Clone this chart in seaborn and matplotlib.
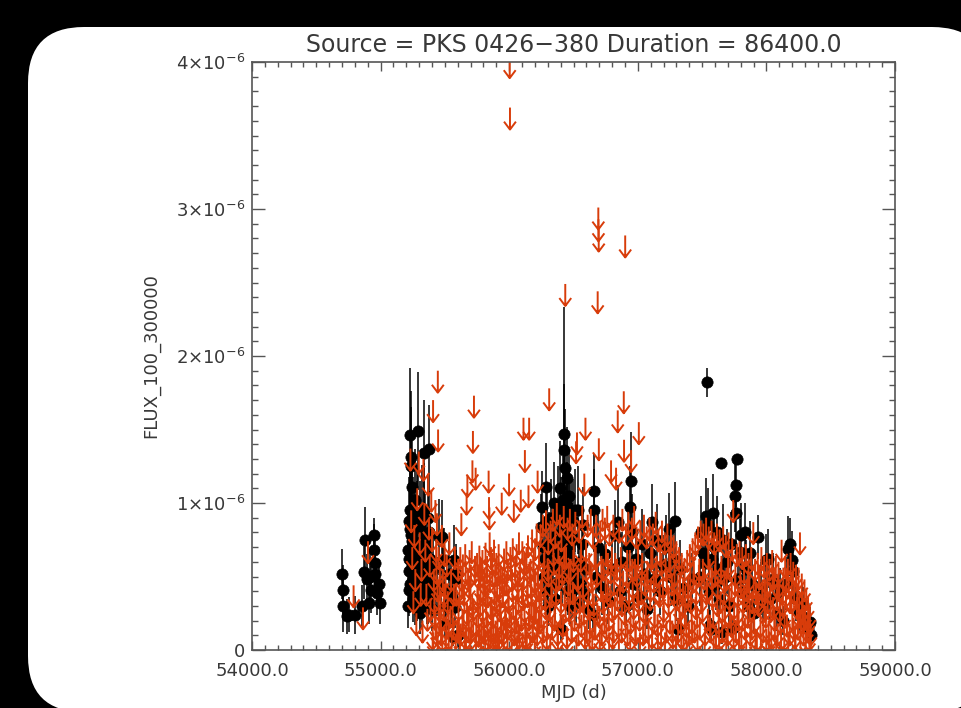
import numpy as np
import pandas as pd
import matplotlib
matplotlib.use("Agg")
import matplotlib.pyplot as plt
import seaborn as sns
from matplotlib.path import Path
from matplotlib.markers import MarkerStyle
from matplotlib.patches import FancyBboxPatch
from matplotlib.transforms import IdentityTransform
from matplotlib.ticker import MultipleLocator, FixedLocator, FixedFormatter, FormatStrFormatter

# ---------------- text ----------------
TITLE = "Source = PKS 0426\u2212380 Duration = 86400.0"
XLABEL = "MJD (d)"
YLABEL = "FLUX_100_300000"
X_TICKS = [54000, 55000, 56000, 57000, 58000, 59000]
Y_TICKS = [0.0, 1e-6, 2e-6, 3e-6, 4e-6]
Y_TICK_LABELS = ["0", r"$1{\times}10^{-6}$", r"$2{\times}10^{-6}$", r"$3{\times}10^{-6}$", r"$4{\times}10^{-6}$"]

# ---------------- detections (flux and error in 1e-6 ph/cm2/s) ----------------
det_mjd_a = [54700, 54706, 54710, 54739, 54752, 54798, 54855, 54868, 54881, 54894,
             54907, 54920, 54928, 54946, 54950, 54955, 54959, 54972, 54985, 54998]
det_flux_a = [0.52, 0.41, 0.30, 0.23, 0.24, 0.24, 0.30, 0.53, 0.75, 0.48,
              0.32, 0.50, 0.41, 0.78, 0.68, 0.59, 0.52, 0.39, 0.45, 0.32]
det_err_a = [0.17, 0.17, 0.18, 0.12, 0.12, 0.13, 0.14, 0.18, 0.22, 0.17,
             0.14, 0.18, 0.16, 0.12, 0.18, 0.17, 0.16, 0.15, 0.15, 0.14]

det_mjd_b = [55215, 55219, 55222, 55226, 55230, 55232, 55235, 55237, 55240, 55243,
             55245, 55250, 55255, 55260, 55266, 55271, 55276, 55282, 55288, 55292,
             55297, 55303, 55310, 55316, 55322, 55328, 55335, 55342, 55350, 55358,
             55366, 55374, 55382, 55390, 55398, 55410, 55425, 55440, 55453, 55466,
             55479, 55485, 55492, 55500, 55512, 55530, 55545, 55557, 55565, 55570,
             55575, 55583, 55590, 55598]
det_flux_b = [0.68, 0.54, 0.41, 0.95, 0.82, 1.46, 0.62, 1.31, 1.25, 0.74,
              1.11, 0.88, 0.48, 0.70, 1.02, 0.32, 0.60, 0.85, 0.55, 1.49,
              0.42, 0.72, 0.25, 0.66, 0.94, 0.50, 1.34, 0.78, 0.58, 0.36,
              0.90, 1.37, 0.62, 0.45, 0.28, 0.55, 0.38, 0.43, 0.77, 0.43,
              0.77, 0.61, 0.61, 0.18, 0.30, 0.52, 0.40, 0.36, 0.09, 0.61,
              0.29, 0.52, 0.48, 0.10]
det_err_b = [0.25, 0.20, 0.18, 0.35, 0.30, 0.46, 0.22, 0.45, 0.40, 0.28,
             0.38, 0.30, 0.20, 0.25, 0.35, 0.15, 0.22, 0.30, 0.22, 0.40,
             0.18, 0.26, 0.14, 0.25, 0.32, 0.20, 0.36, 0.28, 0.22, 0.18,
             0.30, 0.30, 0.24, 0.20, 0.15, 0.22, 0.18, 0.20, 0.26, 0.20,
             0.25, 0.22, 0.22, 0.10, 0.15, 0.22, 0.18, 0.18, 0.06, 0.24,
             0.14, 0.20, 0.20, 0.08]

det_mjd_b2 = [55212, 55217, 55224, 55228, 55234, 55242, 55248, 55253, 55258, 55264,
              55268, 55274, 55280, 55286, 55295, 55300, 55307, 55314, 55320, 55326,
              55332, 55338, 55345, 55354, 55362, 55370, 55378, 55386]
det_flux_b2 = [0.30, 0.88, 0.62, 0.45, 0.78, 0.95, 0.58, 0.35, 0.82, 0.52,
               0.70, 0.44, 0.92, 0.38, 0.66, 0.55, 0.85, 0.48, 0.30, 0.74,
               0.60, 0.95, 0.42, 0.68, 0.52, 0.34, 0.80, 0.58]
det_err_b2 = [0.15, 0.30, 0.24, 0.20, 0.28, 0.32, 0.22, 0.16, 0.30, 0.22,
              0.26, 0.20, 0.32, 0.18, 0.25, 0.22, 0.30, 0.20, 0.15, 0.26,
              0.24, 0.32, 0.18, 0.25, 0.22, 0.16, 0.28, 0.22]

det_mjd_c = [56246, 56255, 56262, 56270, 56278, 56285, 56292, 56297, 56305, 56312,
             56320, 56328, 56335, 56342, 56350, 56358, 56365, 56372, 56380, 56388,
             56395, 56402, 56410, 56418, 56427, 56430, 56436, 56440, 56446, 56452,
             56458, 56465, 56470, 56478, 56485, 56492, 56500, 56510, 56520, 56532,
             56540, 56552, 56565, 56572, 56585, 56600, 56620, 56650, 56657, 56663,
             56675, 56690]
det_flux_c = [0.84, 0.97, 0.70, 0.50, 0.62, 1.11, 0.40, 0.88, 0.30, 0.72,
              0.56, 0.90, 0.45, 0.66, 1.00, 0.35, 0.78, 0.55, 0.95, 0.62,
              1.10, 0.14, 0.70, 0.85, 1.47, 1.36, 1.24, 0.80, 0.98, 1.17,
              0.66, 1.05, 0.50, 0.88, 0.40, 0.75, 0.58, 0.95, 0.32, 0.95,
              0.60, 0.45, 0.72, 0.85, 0.38, 0.55, 0.28, 0.24, 1.08, 0.95,
              0.50, 0.70]
det_err_c = [0.22, 0.25, 0.20, 0.18, 0.20, 0.30, 0.16, 0.25, 0.14, 0.22,
             0.20, 0.26, 0.18, 0.22, 0.28, 0.15, 0.24, 0.20, 0.30, 0.22,
             0.32, 0.08, 0.24, 0.30, 0.86, 0.45, 0.40, 0.28, 0.30, 0.35,
             0.24, 0.32, 0.20, 0.28, 0.18, 0.25, 0.22, 0.28, 0.15, 0.30,
             0.22, 0.18, 0.24, 0.26, 0.16, 0.20, 0.14, 0.12, 0.25, 0.28,
             0.20, 0.22]

det_mjd_c2 = [56400, 56406, 56414, 56422, 56433, 56443, 56449, 56455, 56462, 56468,
              56474, 56482, 56488, 56496, 56505]
det_flux_c2 = [0.62, 0.90, 0.48, 1.02, 0.70, 0.58, 0.85, 0.40, 0.95, 0.66,
               0.30, 0.78, 0.52, 0.88, 0.45]
det_err_c2 = [0.22, 0.28, 0.18, 0.30, 0.24, 0.22, 0.28, 0.16, 0.30, 0.24,
              0.14, 0.26, 0.20, 0.28, 0.18]

det_mjd_d = [56720, 56745, 56770, 56800, 56825, 56844, 56860, 56880, 56905, 56925,
             56940, 56948, 56952, 56965, 56985, 57010, 57030, 57050, 57075, 57095,
             57108, 57125, 57150, 57170, 57195, 57220, 57245, 57260, 57275, 57286,
             57300, 57312, 57330, 57360, 57390, 57420]
det_flux_d = [0.42, 0.65, 0.33, 0.55, 0.78, 0.87, 0.40, 0.60, 0.30, 0.70,
              0.97, 1.15, 0.80, 0.45, 0.62, 0.36, 0.72, 0.52, 0.28, 0.66,
              0.87, 0.48, 0.75, 0.40, 0.58, 0.70, 0.82, 0.50, 0.62, 0.88,
              0.35, 0.14, 0.55, 0.42, 0.30, 0.48]
det_err_d = [0.18, 0.22, 0.15, 0.20, 0.24, 0.25, 0.16, 0.20, 0.14, 0.24,
             0.28, 0.33, 0.26, 0.18, 0.22, 0.16, 0.24, 0.20, 0.14, 0.22,
             0.26, 0.18, 0.24, 0.16, 0.20, 0.22, 0.25, 0.20, 0.22, 0.26,
             0.15, 0.08, 0.20, 0.18, 0.14, 0.18]

det_mjd_e = [57485, 57493, 57507, 57520, 57533, 57539, 57545, 57552, 57560, 57570,
             57578, 57585, 57595, 57605, 57615, 57625, 57635, 57650, 57652, 57665,
             57680, 57695, 57710, 57725, 57740, 57754, 57760, 57767, 57770, 57780,
             57793, 57806, 57820, 57832, 57845, 57860, 57871, 57885, 57900]
det_flux_e = [0.50, 0.80, 0.66, 0.59, 0.91, 1.82, 0.85, 0.40, 0.17, 0.14,
              0.62, 0.93, 0.70, 0.45, 0.80, 0.55, 0.35, 1.27, 0.12, 0.75,
              0.50, 0.60, 0.30, 0.72, 0.15, 1.05, 1.12, 0.93, 1.30, 0.48,
              0.67, 0.78, 0.40, 0.80, 0.55, 0.30, 0.66, 0.45, 0.25]
det_err_e = [0.20, 0.25, 0.22, 0.20, 0.26, 0.10, 0.25, 0.18, 0.10, 0.08,
             0.22, 0.27, 0.24, 0.18, 0.25, 0.20, 0.15, 0.02, 0.08, 0.24,
             0.20, 0.22, 0.14, 0.22, 0.08, 0.25, 0.15, 0.20, 0.03, 0.18,
             0.22, 0.22, 0.18, 0.20, 0.20, 0.14, 0.22, 0.18, 0.12]

det_mjd_f = [57936, 57955, 57975, 58000, 58009, 58030, 58055, 58080, 58105, 58130,
             58155, 58170, 58183, 58196, 58210, 58230, 58250, 58274, 58285, 58300,
             58311, 58325, 58339, 58345]
det_flux_f = [0.77, 0.42, 0.30, 0.61, 0.62, 0.35, 0.48, 0.25, 0.40, 0.20,
              0.45, 0.69, 0.72, 0.61, 0.54, 0.35, 0.25, 0.31, 0.31, 0.22,
              0.18, 0.14, 0.19, 0.10]
det_err_f = [0.15, 0.18, 0.14, 0.18, 0.20, 0.15, 0.18, 0.12, 0.16, 0.10,
             0.18, 0.22, 0.18, 0.20, 0.18, 0.15, 0.12, 0.14, 0.12, 0.10,
             0.08, 0.08, 0.10, 0.07]

# ---------------- upper limits (1e-6 ph/cm2/s) ----------------
ul_mjd_a = [54790, 54863, 54902]
ul_flux_a = [0.44, 0.29, 0.74]

ul_mjd_b = [55232, 55238, 55246, 55255, 55262, 55270, 55278, 55285, 55297, 55304,
            55312, 55318, 55326, 55333, 55340, 55348, 55356, 55364, 55370, 55376,
            55382, 55388, 55394, 55400, 55405, 55408, 55414, 55420, 55426, 55432,
            55436, 55438, 55442, 55445, 55447, 55450, 55455, 55460, 55465, 55470,
            55476, 55484, 55490, 55498, 55505, 55510, 55515, 55522, 55530, 55535,
            55542, 55548, 55560, 55570, 55578, 55588, 55595]
ul_flux_b = [1.37, 0.95, 0.70, 0.40, 0.85, 0.55, 0.25, 1.10, 1.35, 0.80,
             0.45, 0.62, 0.20, 1.30, 1.00, 0.75, 0.45, 0.28, 1.20, 0.90,
             0.65, 0.35, 1.09, 0.82, 0.15, 1.70, 0.55, 0.30, 1.02, 0.75,
             0.18, 0.93, 0.48, 1.90, 1.50, 0.70, 0.25, 0.60, 0.40, 0.18,
             0.85, 0.55, 0.35, 0.72, 0.50, 0.22, 0.65, 0.40, 0.15, 0.80,
             0.30, 0.55, 0.30, 0.45, 0.70, 0.45, 0.20]

ul_mjd_b2 = [55410, 55418, 55428, 55434, 55444, 55452, 55458, 55468, 55480, 55494,
             55508, 55526, 55552, 55566, 55584]
ul_flux_b2 = [0.12, 0.40, 0.22, 0.60, 0.10, 0.35, 0.50, 0.28, 0.14, 0.45,
              0.10, 0.25, 0.12, 0.22, 0.10]

ul_mjd_c = [55603, 55609, 55614, 55620, 55624, 55628, 55633, 55640, 55645, 55652,
            55658, 55664, 55669, 55675, 55680, 55686, 55692, 55699, 55705, 55709,
            55714, 55718, 55722, 55726, 55731, 55739, 55744, 55750, 55756, 55762,
            55768, 55774, 55780, 55786, 55792, 55798, 55804, 55810, 55816, 55822,
            55828, 55834, 55840, 55843, 55846, 55848, 55852, 55858, 55864, 55870,
            55876, 55882, 55888, 55894, 55900, 55906, 55912, 55918, 55924, 55930,
            55936, 55942, 55948, 55954, 55960, 55966, 55972, 55978, 55984, 55990,
            55995, 55999, 56004, 56006, 56010, 56016, 56022, 56028, 56036, 56040,
            56046, 56052, 56058, 56064, 56070, 56076, 56082, 56090, 56096, 56102,
            56108, 56111, 56116, 56122, 56128, 56134, 56140, 56146, 56150, 56155,
            56160, 56166, 56172, 56178, 56184, 56190, 56196, 56202, 56208, 56214,
            56221, 56226, 56232, 56238]
ul_flux_c = [0.62, 0.22, 0.45, 0.70, 0.18, 0.93, 0.50, 0.65, 0.25, 0.40,
             0.72, 0.15, 1.07, 1.19, 0.55, 0.28, 0.68, 0.42, 0.20, 0.74,
             1.29, 1.49, 0.35, 1.73, 0.60, 1.24, 0.24, 0.66, 0.45, 0.17,
             0.71, 0.38, 0.62, 0.22, 0.68, 0.48, 0.19, 0.56, 0.73, 0.30,
             0.64, 0.44, 1.22, 1.04, 0.97, 0.80, 0.16, 0.70, 0.36, 0.58,
             0.24, 0.75, 0.42, 0.20, 0.66, 0.50, 0.14, 0.72, 0.38, 0.60,
             0.26, 1.07, 0.45, 0.18, 0.69, 0.52, 0.30, 0.74, 0.22, 0.62,
             0.40, 1.20, 4.04, 3.69, 0.70, 0.26, 0.55, 0.76, 1.02, 0.18,
             0.64, 0.34, 0.72, 0.48, 0.20, 0.80, 0.58, 1.09, 0.28, 0.74,
             0.42, 1.58, 0.66, 1.36, 0.16, 0.70, 0.50, 0.78, 1.12, 1.58,
             0.30, 0.62, 0.45, 0.82, 0.22, 0.68, 0.54, 0.76, 0.33, 0.86,
             1.22, 0.48, 0.70, 0.26]

ul_mjd_c2 = [55606, 55617, 55630, 55637, 55648, 55655, 55661, 55672, 55683, 55689,
             55696, 55702, 55712, 55720, 55734, 55742, 55753, 55759, 55765, 55771,
             55777, 55783, 55789, 55795, 55801, 55807, 55813, 55819, 55825, 55831,
             55837, 55850, 55855, 55861, 55867, 55873, 55879, 55885, 55891, 55897,
             55903, 55909, 55915, 55921, 55927, 55933, 55939, 55945, 55951, 55957,
             55963, 55969, 55975, 55981, 55987, 55993, 56002, 56013, 56019, 56025,
             56031, 56043, 56049, 56055, 56061, 56067, 56073, 56079, 56085, 56093,
             56099, 56105, 56113, 56119, 56125, 56131, 56137, 56143, 56153, 56158,
             56163, 56169, 56175, 56181, 56187, 56193, 56199, 56205, 56211, 56217,
             56224, 56229, 56235]
ul_flux_c2 = [0.35, 0.12, 0.55, 0.28, 0.45, 0.10, 0.60, 0.32, 0.20, 0.50,
              0.14, 0.58, 0.38, 0.24, 0.64, 0.12, 0.42, 0.30, 0.56, 0.18,
              0.48, 0.10, 0.62, 0.34, 0.22, 0.52, 0.14, 0.44, 0.60, 0.26,
              0.12, 0.54, 0.36, 0.20, 0.66, 0.30, 0.10, 0.46, 0.58, 0.16,
              0.40, 0.28, 0.62, 0.12, 0.50, 0.34, 0.20, 0.56, 0.44, 0.10,
              0.60, 0.32, 0.24, 0.52, 0.14, 0.42, 0.30, 0.64, 0.12, 0.48,
              0.36, 0.20, 0.58, 0.26, 0.10, 0.54, 0.40, 0.16, 0.62, 0.30,
              0.46, 0.12, 0.56, 0.34, 0.22, 0.66, 0.14, 0.44, 0.28, 0.60,
              0.10, 0.50, 0.36, 0.20, 0.64, 0.32, 0.12, 0.54, 0.42, 0.18,
              0.58, 0.26, 0.40]

ul_mjd_d = [56244, 56250, 56256, 56262, 56268, 56274, 56280, 56286, 56292, 56298,
            56304, 56311, 56316, 56322, 56328, 56334, 56340, 56346, 56352, 56358,
            56364, 56370, 56376, 56382, 56388, 56394, 56400, 56406, 56412, 56418,
            56424, 56430, 56436, 56442, 56448, 56454, 56460, 56466, 56472, 56478,
            56484, 56490, 56496, 56502, 56508, 56514, 56520, 56527, 56532, 56538,
            56544, 56550, 56556, 56562, 56568, 56574, 56580, 56584, 56593, 56598,
            56604, 56610, 56616, 56622, 56628, 56634, 56640, 56646, 56652, 56658,
            56664, 56670, 56676, 56682, 56688, 56693, 56694, 56696, 56697, 56702,
            56708, 56714, 56720, 56726, 56732, 56738, 56744, 56750, 56756, 56762,
            56768, 56774, 56780, 56786, 56792, 56798, 56804, 56810, 56816, 56822,
            56831, 56838, 56844, 56850, 56856, 56862, 56868, 56874, 56880, 56886,
            56891, 56893, 56898, 56902, 56908, 56914, 56920, 56926, 56932, 56938,
            56944, 56948, 56954, 56960, 56966, 56972, 56978, 56984, 56990, 56996]
ul_flux_d = [0.85, 0.30, 0.55, 0.92, 0.20, 0.70, 0.42, 0.95, 0.15, 0.62,
             0.80, 1.78, 0.35, 0.88, 0.50, 0.22, 0.96, 0.66, 0.28, 0.84,
             0.45, 1.00, 0.18, 0.74, 0.56, 0.92, 0.30, 0.82, 0.60, 0.24,
             0.98, 0.44, 2.49, 0.70, 0.16, 0.90, 0.52, 0.34, 0.96, 0.62,
             0.20, 0.86, 0.46, 0.72, 0.28, 0.94, 1.42, 1.48, 0.55, 0.18,
             0.88, 0.40, 0.68, 0.24, 0.98, 0.50, 0.32, 1.20, 1.58, 0.75,
             0.20, 0.92, 0.46, 0.66, 0.26, 0.96, 0.54, 0.15, 0.84, 0.38,
             0.70, 0.22, 0.92, 0.58, 2.44, 3.01, 2.93, 2.86, 1.44, 0.30,
             0.88, 0.48, 0.18, 0.96, 0.62, 0.34, 0.90, 0.50, 0.22, 0.98,
             0.66, 0.28, 0.86, 0.44, 1.29, 0.70, 0.16, 0.92, 0.52, 0.36,
             1.24, 0.62, 1.63, 0.24, 0.88, 0.46, 0.70, 0.20, 0.96, 0.54,
             1.76, 1.43, 0.32, 2.82, 0.86, 0.58, 0.18, 0.94, 0.42, 0.68,
             0.26, 1.36, 0.90, 0.50, 0.30, 0.98, 0.62, 0.20, 0.84, 0.44]

ul_mjd_d2 = [56247, 56259, 56271, 56283, 56295, 56307, 56319, 56331, 56343, 56355,
             56367, 56379, 56391, 56403, 56415, 56427, 56439, 56451, 56463, 56475,
             56487, 56499, 56511, 56523, 56535, 56547, 56559, 56571, 56589, 56601,
             56613, 56625, 56637, 56649, 56661, 56673, 56685, 56705, 56717, 56729,
             56741, 56753, 56765, 56777, 56789, 56801, 56813, 56825, 56841, 56853,
             56865, 56877, 56905, 56917, 56929, 56941, 56957, 56969, 56981, 56993]
ul_flux_d2 = [0.48, 0.12, 0.66, 0.36, 0.22, 0.58, 0.10, 0.44, 0.72, 0.30,
              0.54, 0.14, 0.64, 0.40, 0.24, 0.70, 0.34, 0.12, 0.60, 0.46,
              0.20, 0.68, 0.38, 0.10, 0.56, 0.30, 0.74, 0.42, 0.16, 0.62,
              0.36, 0.12, 0.58, 0.44, 0.22, 0.70, 0.32, 0.14, 0.64, 0.40,
              0.26, 0.72, 0.48, 0.12, 0.60, 0.34, 0.20, 0.66, 0.42, 0.10,
              0.56, 0.38, 0.24, 0.68, 0.46, 0.14, 0.62, 0.36, 0.18, 0.58]

ul_mjd_e = [57002, 57008, 57014, 57020, 57027, 57034, 57041, 57048, 57055, 57062,
            57069, 57076, 57083, 57090, 57097, 57104, 57111, 57118, 57125, 57132,
            57139, 57146, 57153, 57160, 57167, 57174, 57181, 57188, 57195, 57202,
            57209, 57216, 57223, 57230, 57237, 57244, 57251, 57258, 57265, 57272,
            57279, 57286, 57293, 57300, 57307, 57314, 57321, 57328, 57335, 57342,
            57349, 57356, 57363, 57370, 57377, 57384, 57391, 57398, 57405, 57412,
            57419, 57426, 57433, 57440, 57447, 57454, 57461, 57468, 57475, 57482,
            57489, 57496]
ul_flux_e = [0.70, 1.55, 0.28, 0.88, 0.46, 0.66, 0.18, 0.92, 0.52, 0.32,
             0.84, 0.60, 0.22, 0.90, 0.42, 0.70, 0.16, 0.86, 0.54, 0.30,
             0.94, 0.64, 0.24, 0.82, 0.46, 0.72, 0.18, 0.88, 0.50, 0.34,
             0.80, 0.62, 0.20, 0.86, 0.44, 0.68, 0.26, 0.82, 0.52, 0.16,
             0.78, 0.58, 0.30, 0.74, 0.42, 0.20, 0.70, 0.50, 0.26, 0.66,
             0.38, 0.14, 0.62, 0.44, 0.24, 0.68, 0.50, 0.18, 0.72, 0.40,
             0.26, 0.76, 0.54, 0.20, 0.80, 0.46, 0.30, 0.84, 0.58, 0.22,
             0.88, 0.50]

ul_mjd_e2 = [57005, 57017, 57030, 57044, 57058, 57072, 57086, 57100, 57114, 57128,
             57142, 57156, 57170, 57184, 57198, 57212, 57226, 57240, 57254, 57268,
             57282, 57296, 57310, 57324, 57338, 57352, 57366, 57380, 57394, 57408,
             57422, 57436, 57450, 57464, 57478, 57492]
ul_flux_e2 = [0.40, 0.12, 0.62, 0.34, 0.20, 0.56, 0.10, 0.48, 0.70, 0.26,
              0.58, 0.14, 0.44, 0.66, 0.30, 0.12, 0.54, 0.38, 0.64, 0.20,
              0.46, 0.10, 0.52, 0.34, 0.16, 0.48, 0.30, 0.12, 0.44, 0.56,
              0.20, 0.60, 0.36, 0.14, 0.62, 0.40]

ul_mjd_f = [57503, 57510, 57517, 57524, 57531, 57538, 57545, 57552, 57559, 57566,
            57573, 57580, 57587, 57594, 57601, 57608, 57615, 57622, 57629, 57636,
            57643, 57650, 57657, 57664, 57671, 57678, 57685, 57692, 57699, 57706,
            57713, 57720, 57727, 57734, 57742, 57749, 57756, 57763, 57770, 57777,
            57784, 57791, 57798, 57805, 57812, 57819, 57826, 57833, 57840, 57847,
            57854, 57861, 57868, 57875, 57882, 57890, 57898, 57905, 57912, 57919,
            57926, 57933, 57940, 57947, 57954, 57961, 57968, 57975, 57982, 57989,
            57996]
ul_flux_f = [0.34, 0.86, 0.56, 0.18, 0.90, 0.48, 0.28, 0.84, 0.62, 0.20,
             0.88, 0.44, 0.30, 0.80, 0.58, 0.16, 0.86, 0.50, 0.26, 0.82,
             0.40, 0.64, 0.20, 0.84, 0.46, 0.30, 0.78, 0.56, 0.18, 0.80,
             0.42, 0.62, 0.24, 0.76, 1.02, 0.36, 0.52, 0.20, 0.72, 0.44,
             0.28, 0.74, 0.54, 0.16, 0.70, 0.40, 0.60, 0.22, 0.72, 0.48,
             0.30, 0.66, 0.50, 0.18, 0.70, 0.40, 0.87, 0.26, 0.62, 0.46,
             0.14, 0.66, 0.38, 0.56, 0.24, 0.70, 0.44, 0.20, 0.64, 0.48,
             0.30]

ul_mjd_f2 = [57506, 57520, 57534, 57548, 57562, 57576, 57590, 57604, 57618, 57632,
             57646, 57660, 57674, 57688, 57702, 57716, 57730, 57745, 57759, 57773,
             57787, 57801, 57815, 57829, 57843, 57857, 57871, 57886, 57901, 57915,
             57929, 57943, 57957, 57971, 57985, 57999]
ul_flux_f2 = [0.62, 0.12, 0.46, 0.70, 0.24, 0.56, 0.10, 0.66, 0.38, 0.14,
              0.60, 0.34, 0.54, 0.12, 0.64, 0.30, 0.48, 0.16, 0.58, 0.32,
              0.12, 0.50, 0.28, 0.44, 0.12, 0.54, 0.34, 0.22, 0.50, 0.12,
              0.40, 0.58, 0.10, 0.48, 0.34, 0.14]

ul_mjd_g = [58003, 58010, 58017, 58024, 58031, 58038, 58045, 58052, 58059, 58066,
            58073, 58080, 58087, 58094, 58101, 58108, 58118, 58125, 58132, 58139,
            58146, 58153, 58160, 58167, 58174, 58181, 58188, 58195, 58202, 58209,
            58216, 58223, 58230, 58237, 58244, 58250, 58255, 58261, 58268, 58275,
            58282, 58289, 58296, 58303, 58310, 58317, 58324, 58331, 58338, 58345]
ul_flux_g = [0.66, 0.40, 0.20, 0.62, 0.46, 0.16, 0.68, 0.36, 0.56, 0.22,
             0.64, 0.42, 0.18, 0.60, 0.48, 0.26, 0.75, 0.38, 0.56, 0.14,
             0.64, 0.44, 0.24, 0.62, 0.50, 0.18, 0.66, 0.40, 0.28, 0.60,
             0.46, 0.16, 0.58, 0.36, 0.22, 0.56, 0.40, 0.80, 0.26, 0.52,
             0.34, 0.18, 0.48, 0.30, 0.42, 0.20, 0.36, 0.26, 0.30, 0.18]

ul_mjd_g2 = [58006, 58020, 58034, 58048, 58062, 58076, 58090, 58104, 58114, 58128,
             58142, 58156, 58170, 58184, 58198, 58212, 58226, 58240, 58253, 58265,
             58278, 58292, 58306, 58320, 58334, 58342]
ul_flux_g2 = [0.52, 0.12, 0.34, 0.56, 0.28, 0.10, 0.50, 0.34, 0.14, 0.46,
              0.30, 0.54, 0.12, 0.40, 0.52, 0.22, 0.10, 0.44, 0.30, 0.12,
              0.40, 0.28, 0.12, 0.24, 0.14, 0.10]

# ---------------- assemble tables ----------------
SCALE = 1e-6
det_mjd = det_mjd_a + det_mjd_b + det_mjd_b2 + det_mjd_c + det_mjd_c2 + det_mjd_d + det_mjd_e + det_mjd_f
det_flux = det_flux_a + det_flux_b + det_flux_b2 + det_flux_c + det_flux_c2 + det_flux_d + det_flux_e + det_flux_f
det_err = det_err_a + det_err_b + det_err_b2 + det_err_c + det_err_c2 + det_err_d + det_err_e + det_err_f
det = pd.DataFrame({"mjd": det_mjd,
                    "flux": np.array(det_flux) * SCALE,
                    "err": np.array(det_err) * SCALE})

ul_mjd = (ul_mjd_a + ul_mjd_b + ul_mjd_b2 + ul_mjd_c + ul_mjd_c2 + ul_mjd_d + ul_mjd_d2
          + ul_mjd_e + ul_mjd_e2 + ul_mjd_f + ul_mjd_f2 + ul_mjd_g + ul_mjd_g2)
ul_flux = (ul_flux_a + ul_flux_b + ul_flux_b2 + ul_flux_c + ul_flux_c2 + ul_flux_d + ul_flux_d2
           + ul_flux_e + ul_flux_e2 + ul_flux_f + ul_flux_f2 + ul_flux_g + ul_flux_g2)
ul = pd.DataFrame({"mjd": ul_mjd, "flux": np.array(ul_flux) * SCALE})

# ---------------- styling ----------------
RED = "#d83c0a"
TXT = "#383838"
AX_COL = "#555555"

plt.rcParams["font.family"] = ["DejaVu Sans"]
plt.rcParams["mathtext.fontset"] = "dejavusans"

W, H = 961, 708
fig = plt.figure(figsize=(W / 100, H / 100), dpi=100, facecolor="black")

# white rounded panel (pixel coordinates)
panel = FancyBboxPatch((28, -4), 960, H - 27 + 4,
                       boxstyle="round,pad=0,rounding_size=56",
                       transform=IdentityTransform(), facecolor="white",
                       edgecolor="none", zorder=-10)
fig.add_artist(panel)

ax = fig.add_axes([252 / W, (H - 650) / H, 643 / W, 588 / H])
ax.set_facecolor("white")

# error bars for detections
ax.errorbar(det["mjd"], det["flux"], yerr=det["err"], fmt="none",
            ecolor="black", elinewidth=1.1, capsize=0, zorder=2)
# detections
sns.scatterplot(data=det, x="mjd", y="flux", ax=ax, color="black",
                edgecolor="black", marker="o", s=66, linewidth=0.5,
                zorder=3, legend=False)

# upper-limit arrow marker: line from value downward with an open V head
arrow_path = Path([(0, 0), (0, -1), (-0.27, -0.64), (0, -1), (0.27, -0.64)],
                  [Path.MOVETO, Path.LINETO, Path.MOVETO, Path.LINETO, Path.LINETO])
arrow_marker = MarkerStyle(arrow_path, fillstyle="none")
arrow_len_pt = 22 * 72 / 100.0
sns.scatterplot(data=ul, x="mjd", y="flux", ax=ax, color=RED,
                marker=arrow_marker, s=(2 * arrow_len_pt) ** 2, linewidth=1.4,
                zorder=4, legend=False)

ax.set_xlim(54000, 59000)
ax.set_ylim(0, 4e-6)

ax.xaxis.set_major_locator(FixedLocator(X_TICKS))
ax.xaxis.set_major_formatter(FormatStrFormatter("%.1f"))
ax.xaxis.set_minor_locator(MultipleLocator(100))
ax.yaxis.set_major_locator(FixedLocator(Y_TICKS))
ax.yaxis.set_major_formatter(FixedFormatter(Y_TICK_LABELS))
ax.yaxis.set_minor_locator(MultipleLocator(1e-7))

ax.tick_params(axis="both", which="both", direction="in", top=True, right=True,
               color=AX_COL, labelcolor=TXT, labelsize=13, width=1.0)
ax.tick_params(axis="x", which="major", length=6.5, pad=9)
ax.tick_params(axis="x", which="minor", length=3.3)
ax.tick_params(axis="y", which="major", length=9.4, pad=5)
ax.tick_params(axis="y", which="minor", length=4.3)

for sp in ax.spines.values():
    sp.set_color(AX_COL)
    sp.set_linewidth(1.2)
    sp.set_zorder(5)

ax.set_xlabel(XLABEL, fontsize=13, color=TXT)
ax.set_ylabel(YLABEL, fontsize=13, color=TXT)
ax.xaxis.set_label_coords(0.5, -0.058)
ax.yaxis.set_label_coords(-0.143, 0.5)
ax.set_title(TITLE, fontsize=17, color=TXT, pad=7)

fig.savefig("out.png", dpi=100, facecolor="black")
